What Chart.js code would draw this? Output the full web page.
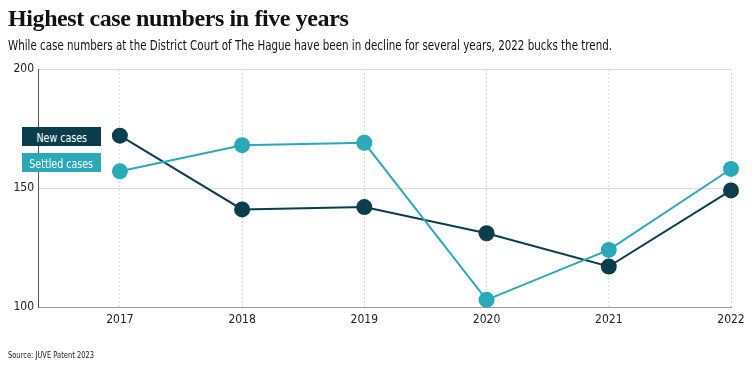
<!DOCTYPE html>
<html>
<head>
<meta charset="utf-8">
<script src="https://cdn.jsdelivr.net/npm/chart.js@4.4.0/dist/chart.umd.min.js"></script>
<style>
  html, body { margin: 0; padding: 0; background: #fff; }
  .wrap { position: relative; width: 752px; height: 369px; overflow: hidden; }
  canvas { position: absolute; left: 0; top: 0; }
  .title {
    position: absolute; left: 8px; top: 5px; white-space: nowrap;
    font-family: "Liberation Serif", "DejaVu Serif", serif;
    font-weight: bold; font-size: 24px; color: #111; letter-spacing: -0.4px;
  }
  .fit {
    white-space: nowrap; transform-origin: left center;
    font-family: "DejaVu Sans Condensed", "Liberation Sans", sans-serif;
  }
  .subtitle {
    position: absolute; left: 8px; top: 37px;
    font-size: 14px; color: #111;
  }
  .legend-box {
    position: absolute; left: 22px; width: 79px; height: 19px;
    color: #fff; text-align: center; line-height: 19px; overflow: hidden;
  }
  .legend-box span {
    display: inline-block; font-size: 12px;
    font-family: "DejaVu Sans Condensed", "Liberation Sans", sans-serif;
    transform: scaleX(0.88);
  }
  .source {
    position: absolute; left: 8px; top: 350px;
    font-size: 9px; color: #222;
  }
</style>
</head>
<body>
<div class="wrap">
  <canvas id="chart" width="752" height="369"></canvas>
  <div class="title">Highest case numbers in five years</div>
  <div class="subtitle fit" data-w="604">While case numbers at the District Court of The Hague have been in decline for several years, 2022 bucks the trend.</div>
  <div class="legend-box" style="top:127px;background:#0b3d4c;"><span>New cases</span></div>
  <div class="legend-box" style="top:153px;background:#2aaab8;"><span>Settled cases</span></div>
  <div class="source fit" data-w="86">Source: JUVE Patent 2023</div>
</div>
<script>
// Data
const years = [2017, 2018, 2019, 2020, 2021, 2022];
const newCases = [172, 141, 142, 131, 117, 149];
const settledCases = [157, 168, 169, 103, 124, 158];
const yTicks = [100, 150, 200];

const darkColor = '#0b3d4c';
const tealColor = '#2aaab8';
const tickFont = { family: '"DejaVu Sans Condensed", "Liberation Sans", sans-serif', size: 12 };

// squeeze condensed text to the reference widths
document.querySelectorAll('.fit').forEach(el => {
    const target = Number(el.dataset.w);
    const w = el.getBoundingClientRect().width;
    el.style.transform = 'scaleX(' + (target / w) + ')';
});

function toPoints(values) {
    return years.map((yr, i) => ({ x: yr, y: values[i] }));
}

const ctx = document.getElementById('chart').getContext('2d');
new Chart(ctx, {
    type: 'line',
    data: {
        datasets: [{
            label: 'Settled cases',
            data: toPoints(settledCases),
            borderColor: tealColor,
            backgroundColor: tealColor,
            borderWidth: 2,
            pointRadius: 8,
            pointBorderWidth: 0,
            tension: 0,
            clip: false
        }, {
            label: 'New cases',
            data: toPoints(newCases),
            borderColor: darkColor,
            backgroundColor: darkColor,
            borderWidth: 2,
            pointRadius: 8,
            pointBorderWidth: 0,
            tension: 0,
            clip: false
        }]
    },
    options: {
        responsive: false,
        animation: false,
        layout: { padding: { left: 0, right: 21, top: 69, bottom: 32 } },
        plugins: {
            legend: { display: false },
            tooltip: { enabled: false }
        },
        scales: {
            x: {
                type: 'linear',
                min: 2016.33,
                max: 2022,
                ticks: {
                    stepSize: 1,
                    includeBounds: false,
                    color: '#222',
                    font: tickFont,
                    padding: 6,
                    callback: v => String(v)
                },
                grid: { color: '#dcdcdc', drawTicks: false, lineWidth: 1 },
                border: { color: '#9a9a9a', width: 1, dash: [2, 2] },
                afterFit: scale => { scale.height = 30; }
            },
            y: {
                min: 100,
                max: 200,
                afterBuildTicks: scale => { scale.ticks = yTicks.map(v => ({ value: v })); },
                ticks: { color: '#222', font: tickFont, padding: 4 },
                grid: { color: '#dcdcdc', drawTicks: false, lineWidth: 1 },
                border: { color: '#555', width: 1 },
                afterFit: scale => { scale.width = 38; }
            }
        }
    }
});
</script>
</body>
</html>
